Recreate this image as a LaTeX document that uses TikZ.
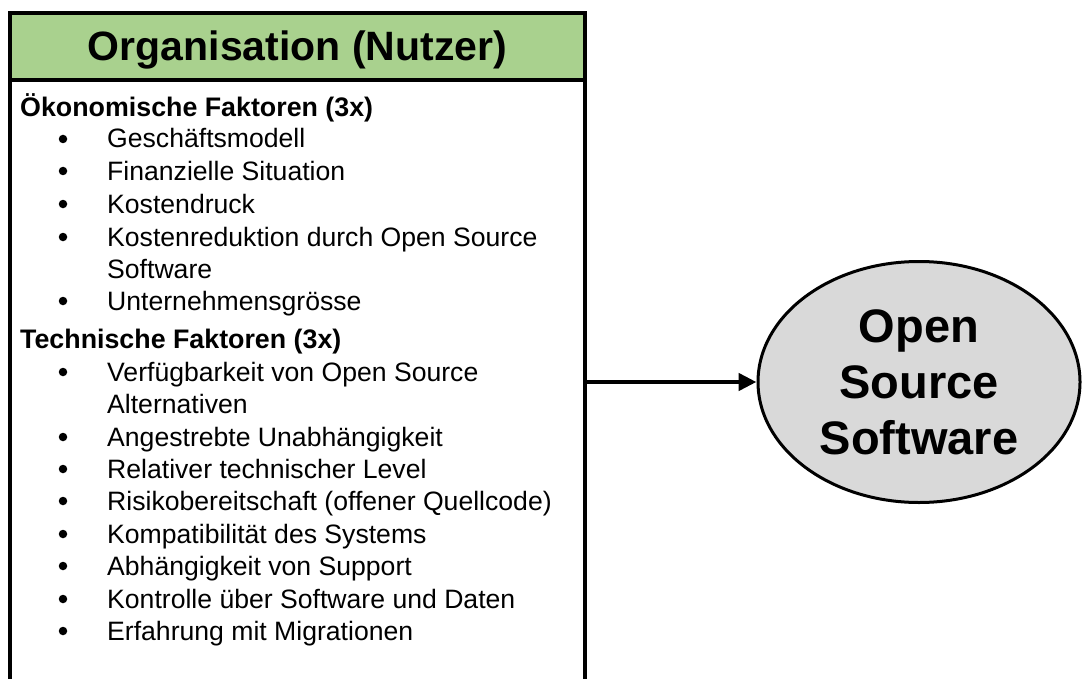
\documentclass[tikz,border=0pt]{standalone}
\usepackage{fontspec}
\setmainfont{Liberation Sans}
\usetikzlibrary{arrows.meta,shapes.geometric}
\definecolor{hdrgreen}{HTML}{A9D18E}
\definecolor{ellgray}{HTML}{D9D9D9}
\begin{document}
\begin{tikzpicture}[x=1pt,y=-1pt,
  boxline/.style={draw=black,line width=4pt},
  itemtext/.style={anchor=base west,inner sep=0pt,font=\fontsize{26.6}{30}\selectfont},
  headtext/.style={anchor=base west,inner sep=0pt,font=\fontsize{26.8}{30}\selectfont\bfseries},
  bul/.style={circle,fill=black,inner sep=0pt,minimum size=8.5pt}]
\useasboundingbox (0,0) rectangle (1083,679);
\node[boxline, fill=white, minimum width=575pt, minimum height=640pt, inner sep=0pt] (body) at (297.5,400) {};
\node[boxline, fill=hdrgreen, minimum width=575pt, minimum height=67pt, inner sep=0pt] (header) at (297.5,46.5) {};
\node[inner sep=0pt, font=\fontsize{41}{48}\selectfont\bfseries, anchor=base] (title) at (297.5,61) {Organisation (Nutzer)};
\node[headtext] (h1) at (20,117) {Ökonomische Faktoren (3x)};
\node[headtext] (h2) at (20,348) {Technische Faktoren (3x)};
\foreach \y/\t [count=\i] in {148/{Geschäftsmodell},180/{Finanzielle Situation},213/{Kostendruck},246/{Kostenreduktion durch Open Source},310/{Unternehmensgrösse},381/{Verfügbarkeit von Open Source},446/{Angestrebte Unabhängigkeit},478/{Relativer technischer Level},510/{Risikobereitschaft (offener Quellcode)},543/{Kompatibilität des Systems},575/{Abhängigkeit von Support},608/{Kontrolle über Software und Daten},640/{Erfahrung mit Migrationen}}{
  \node[bul] (b\i) at (63,\y-9) {};
  \node[itemtext] (t\i) at (107,\y) {\t};
}
\node[itemtext] (c1) at (107,278) {Software};
\node[itemtext] (c2) at (107,413) {Alternativen};
\node[ellipse, draw=black, line width=3pt, fill=ellgray, minimum width=322pt, minimum height=241pt, inner sep=0pt, align=center, font=\fontsize{47}{56}\selectfont\bfseries] (oss) at (919,382) {Open\\Source\\Software};
\draw[line width=4.5pt, -{Triangle[length=18pt,width=17pt]}] (body.east |- oss.west) -- (oss.west);
\end{tikzpicture}
\end{document}
